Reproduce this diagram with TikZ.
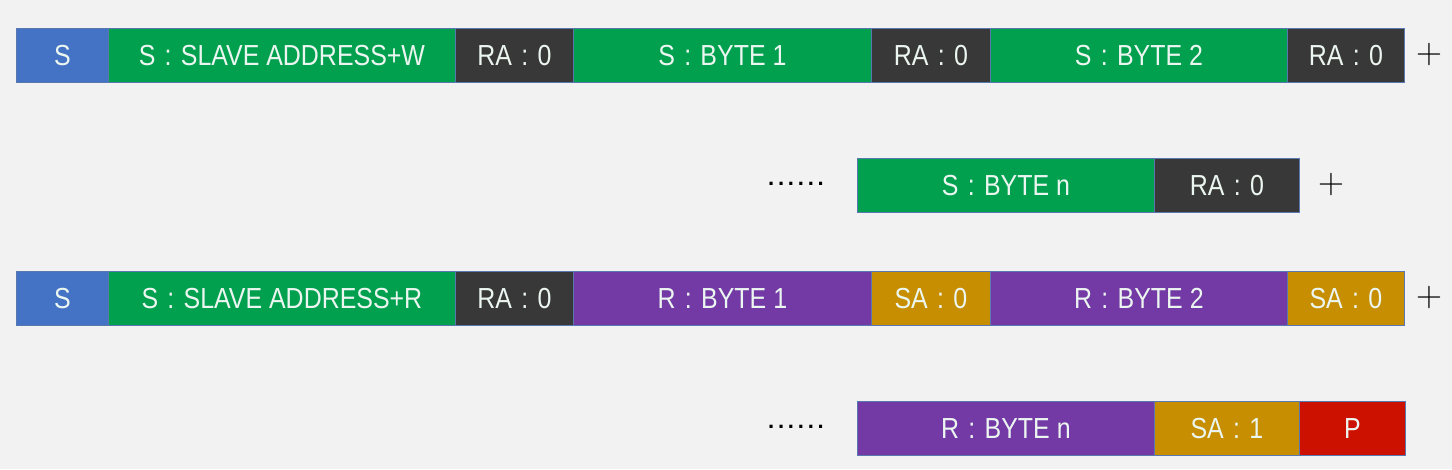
\documentclass[tikz,border=0pt]{standalone}
\usepackage{fontspec}
\setmainfont{Liberation Sans}
\newfontfamily\segfont[FakeStretch=0.86]{Liberation Sans}
\newfontfamily\plusfont{Latin Modern Roman}
\definecolor{bgc}{HTML}{F2F2F2}
\definecolor{sblue}{HTML}{4472C4}
\definecolor{sgreen}{HTML}{00A04F}
\definecolor{sdark}{HTML}{383838}
\definecolor{spurple}{HTML}{7339A5}
\definecolor{sgold}{HTML}{C68E00}
\definecolor{sred}{HTML}{CC1100}
\definecolor{bordc}{HTML}{5A78B0}
\definecolor{txtc}{HTML}{ECF6F0}
\newcommand\cl{\hspace{0.32em}:\hspace{0.32em}}
\newcommand\sixdots{.\hspace{3.8pt}.\hspace{3.8pt}.\hspace{3.8pt}.\hspace{3.8pt}.\hspace{3.8pt}.}
\tikzset{
  seg/.style={draw=bordc, line width=0.8pt, inner sep=0pt, minimum height=54pt,
    anchor=north west, text=txtc, font=\segfont\fontsize{29}{32}\selectfont},
  plus/.style={font=\plusfont\fontsize{36}{38}\selectfont, text=black},
  dots/.style={font=\bfseries\fontsize{22}{24}\selectfont, text=black}
}
\begin{document}
\begin{tikzpicture}[x=1pt,y=-1pt]
\path[fill=bgc] (0,0) rectangle (1452,469);
\useasboundingbox (0,0) rectangle (1452,469);
% row 1
\node[seg, fill=sblue, minimum width=92pt] (a1) at (16,28) {S};
\node[seg, fill=sgreen, minimum width=347pt] (a2) at (108,28) {S\cl SLAVE ADDRESS+W};
\node[seg, fill=sdark, minimum width=118pt] (a3) at (455,28) {RA\cl 0};
\node[seg, fill=sgreen, minimum width=298pt] (a4) at (573,28) {S\cl BYTE 1};
\node[seg, fill=sdark, minimum width=119pt] (a5) at (871,28) {RA\cl 0};
\node[seg, fill=sgreen, minimum width=297pt] (a6) at (990,28) {S\cl BYTE 2};
\node[seg, fill=sdark, minimum width=117pt] (a7) at (1287,28) {RA\cl 0};
\node[plus] (p1) at (1429,55) {+};
% row 2
\node[dots] (d2) at (796,184) {\sixdots};
\node[seg, fill=sgreen, minimum width=297pt] (b1) at (857,158) {S\cl BYTE n};
\node[seg, fill=sdark, minimum width=145pt] (b2) at (1154,158) {RA\cl 0};
\node[plus] (p2) at (1331,185) {+};
% row 3
\node[seg, fill=sblue, minimum width=92pt] (c1) at (16,271) {S};
\node[seg, fill=sgreen, minimum width=347pt] (c2) at (108,271) {S\cl SLAVE ADDRESS+R};
\node[seg, fill=sdark, minimum width=118pt] (c3) at (455,271) {RA\cl 0};
\node[seg, fill=spurple, minimum width=298pt] (c4) at (573,271) {R\cl BYTE 1};
\node[seg, fill=sgold, minimum width=119pt] (c5) at (871,271) {SA\cl 0};
\node[seg, fill=spurple, minimum width=297pt] (c6) at (990,271) {R\cl BYTE 2};
\node[seg, fill=sgold, minimum width=117pt] (c7) at (1287,271) {SA\cl 0};
\node[plus] (p3) at (1429,298) {+};
% row 4
\node[dots] (d4) at (796,427) {\sixdots};
\node[seg, fill=spurple, minimum width=297pt] (e1) at (857,401) {R\cl BYTE n};
\node[seg, fill=sgold, minimum width=145pt] (e2) at (1154,401) {SA\cl 1};
\node[seg, fill=sred, minimum width=106pt] (e3) at (1299,401) {P};
\end{tikzpicture}
\end{document}
